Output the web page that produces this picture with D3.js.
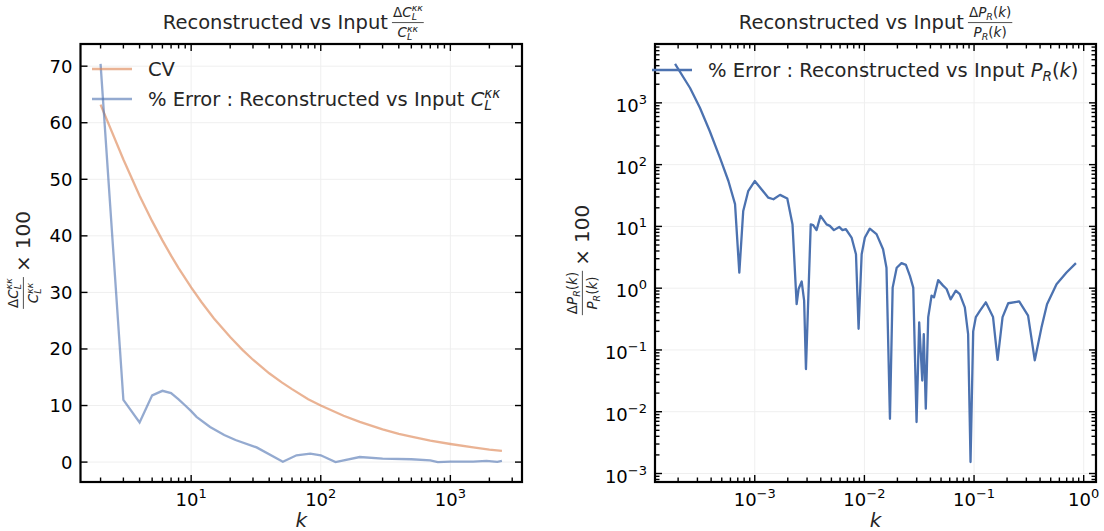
<!DOCTYPE html>
<html>
<head>
<meta charset="utf-8">
<script src="https://cdn.jsdelivr.net/npm/d3@7"></script>
<style>
  body { margin: 0; background: #fff; }
  svg text { font-family: "DejaVu Sans", sans-serif; }
</style>
</head>
<body>
<div id="chart"></div>
<script>
// left panel: CV and % error of reconstructed C_L^kk
var kCV = [2, 3, 4, 5, 6, 7, 8, 10, 12, 15, 20, 25, 30, 40, 50, 60, 80, 100, 150, 200, 300, 400, 500, 700, 1000, 1500, 2000, 2500];
var cvPct = [63.2, 53.5, 47.1, 42.6, 39.2, 36.5, 34.3, 30.9, 28.3, 25.4, 22.1, 19.8, 18.1, 15.7, 14.1, 12.9, 11.1, 10.0, 8.2, 7.1, 5.8, 5.0, 4.5, 3.8, 3.2, 2.6, 2.2, 2.0];

var kErrCl = [2, 3, 4, 5, 6, 7, 8, 9, 10, 11, 14, 18, 22, 32, 51, 65, 83, 100, 130, 200, 300, 500, 700, 800, 1000, 1500, 1900, 2300, 2500];
var errCl = [70.4, 11.0, 7.0, 11.8, 12.6, 12.2, 11.1, 10.0, 9.0, 8.0, 6.2, 4.8, 3.9, 2.6, 0.05, 1.2, 1.5, 1.2, 0.0, 0.9, 0.6, 0.5, 0.3, 0.0, 0.1, 0.1, 0.2, 0.05, 0.2];

// right panel: % error of reconstructed P_R(k)
var kPk = [1.875e-4, 2.57e-4, 3.16e-4, 3.89e-4, 4.82e-4, 5.75e-4, 6.61e-4, 7.23e-4, 7.85e-4, 8.71e-4,
  1.0e-3, 1.33e-3, 1.48e-3, 1.70e-3, 1.98e-3, 2.21e-3, 2.41e-3, 2.51e-3, 2.68e-3, 2.82e-3,
  2.93e-3, 3.24e-3, 3.41e-3, 3.66e-3, 3.98e-3, 4.52e-3, 4.84e-3, 5.27e-3, 5.89e-3, 6.31e-3,
  6.78e-3, 7.64e-3, 8.38e-3, 8.85e-3, 9.44e-3, 0.0101, 0.0112, 0.0129, 0.0148, 0.0159,
  0.0171, 0.0181, 0.0197, 0.0218, 0.0239, 0.0260, 0.0279, 0.0299, 0.0316, 0.0337,
  0.0348, 0.0363, 0.0382, 0.0410, 0.0431, 0.0471, 0.0522, 0.0562, 0.0611, 0.0682,
  0.0741, 0.0824, 0.0883, 0.0929, 0.0982, 0.1038, 0.113, 0.128, 0.149, 0.164,
  0.182, 0.205, 0.258, 0.311, 0.358, 0.412, 0.463, 0.565, 0.697, 0.85];
var errPk = [4270, 1740, 832, 347, 129, 54.3, 22.9, 1.79, 17.8, 37.2,
  54.3, 29.2, 27.5, 32.4, 28.2, 10.7, 0.55, 0.97, 1.28, 0.63,
  0.049, 10.8, 10.5, 8.7, 14.8, 10.8, 10.2, 8.7, 9.8, 8.7,
  9.0, 6.6, 3.55, 0.22, 3.55, 6.6, 9.2, 7.5, 4.27, 2.14,
  0.0077, 1.02, 2.14, 2.54, 2.39, 1.58, 1.02, 0.0068, 0.28, 0.032,
  0.18, 0.0112, 0.34, 0.76, 0.71, 1.35, 1.10, 0.97, 0.66, 0.91,
  0.80, 0.49, 0.18, 0.00153, 0.2, 0.34, 0.43, 0.59, 0.34, 0.069,
  0.34, 0.57, 0.61, 0.36, 0.068, 0.23, 0.55, 1.16, 1.79, 2.54];

var yTicksL = [0, 10, 20, 30, 40, 50, 60, 70];
var xMajorL = [10, 100, 1000];
var xMajorR = [1e-3, 1e-2, 1e-1, 1];
var yMajorR = [1e-3, 1e-2, 1e-1, 1, 10, 100, 1000];

var W = 1104, H = 531;
var TXT = "#262626";
var GRID = "#efefef";
var TICKFONT = 18;

var svg = d3.select("#chart").append("svg")
    .attr("width", W)
    .attr("height", H);

// matplotlib style 5% padding
function padLin(lo, hi) { var r = hi - lo; return [lo - 0.05 * r, hi + 0.05 * r]; }
function padLog(lo, hi) {
    var a = Math.log10(lo), b = Math.log10(hi), r = b - a;
    return [Math.pow(10, a - 0.05 * r), Math.pow(10, b + 0.05 * r)];
}
function minorLog(dom) {
    var out = [];
    for (var e = Math.floor(Math.log10(dom[0])); e <= Math.ceil(Math.log10(dom[1])); e++) {
        for (var m = 2; m <= 9; m++) {
            var v = m * Math.pow(10, e);
            if (v >= dom[0] && v <= dom[1]) out.push(v);
        }
    }
    return out;
}
function expOf(v) {
    var e = Math.round(Math.log10(v));
    return e < 0 ? "\u2212" + (-e) : String(e);
}

// lays out a run of pieces (italic / sub / sup) as tspans of one text, from x=0 on baseline 0
function mathRun(g, pieces, size, fill) {
    var cx = 0, prevStart = 0, prevEnd = 0;
    var text = g.append("text").attr("fill", fill || TXT).attr("font-size", size);
    pieces.forEach(function (p) {
        var fs = size * (p.sc || 1);
        if (p.gap) cx += p.gap * size;
        var start = p.stack ? prevStart : cx;
        var t = text.append("tspan")
            .attr("x", start)
            .attr("y", (p.sh || 0) * size)
            .attr("font-size", fs)
            .attr("font-style", p.it ? "italic" : "normal")
            .text(p.t);
        var w = t.node().getComputedTextLength();
        if (p.stack) {
            cx = Math.max(prevEnd, start + w);
        } else {
            prevStart = start;
            prevEnd = start + w;
            cx = start + w;
        }
    });
    return cx;
}

// fraction with its bar on y=0
function fraction(g, num, den, size) {
    var gn = g.append("g"), gd = g.append("g");
    var wn = mathRun(gn, num, size), wd = mathRun(gd, den, size);
    var w = Math.max(wn, wd) + 2;
    gn.attr("transform", "translate(" + (w - wn) / 2 + "," + (-size * 0.42) + ")");
    gd.attr("transform", "translate(" + (w - wd) / 2 + "," + (size * 1.1) + ")");
    g.append("line")
        .attr("x1", 0).attr("x2", w)
        .attr("y1", 0).attr("y2", 0)
        .attr("stroke", TXT)
        .attr("stroke-width", 0.8);
    return w;
}

// "label" + fraction + "after", centred on the group origin
function labelWithFrac(g, before, num, den, after, size, fracSize) {
    var inner = g.append("g");
    var x = 0;
    if (before) {
        x = mathRun(inner, [{ t: before }], size) + 4;
    }
    var gf = inner.append("g");
    var wf = fraction(gf, num, den, fracSize);
    gf.attr("transform", "translate(" + x + "," + (-size * 0.33) + ")");
    x += wf;
    if (after) {
        var ga = inner.append("g").attr("transform", "translate(" + (x + 5) + ",0)");
        x += 5 + mathRun(ga, after, size);
    }
    inner.attr("transform", "translate(" + (-x / 2) + ",0)");
}

var clNum = [{ t: "\u0394" }, { t: "C", it: 1 }, { t: "L", it: 1, sc: 0.7, sh: 0.22 }, { t: "\u03ba\u03ba", it: 1, sc: 0.7, sh: -0.42, stack: 1 }];
var clDen = [{ t: "C", it: 1 }, { t: "L", it: 1, sc: 0.7, sh: 0.22 }, { t: "\u03ba\u03ba", it: 1, sc: 0.7, sh: -0.42, stack: 1 }];
var pkNum = [{ t: "\u0394" }, { t: "P", it: 1 }, { t: "R", it: 1, sc: 0.7, sh: 0.22 }, { t: "(" }, { t: "k", it: 1 }, { t: ")" }];
var pkDen = [{ t: "P", it: 1 }, { t: "R", it: 1, sc: 0.7, sh: 0.22 }, { t: "(" }, { t: "k", it: 1 }, { t: ")" }];
var times100 = [{ t: "\u00d7" }, { t: "100", gap: 0.3 }];

/**
 * Draws one panel: grid, ticks, tick labels and x label
 */
function panel(box, x, y, opts) {
    var g = svg.append("g");
    var x0 = box.x0, x1 = box.x1, y0 = box.y0, y1 = box.y1;

    // grid
    opts.xMajor.forEach(function (v) {
        g.append("line").attr("x1", x(v)).attr("x2", x(v)).attr("y1", y0).attr("y2", y1)
            .attr("stroke", GRID).attr("stroke-width", 1);
    });
    opts.yMajor.forEach(function (v) {
        g.append("line").attr("x1", x0).attr("x2", x1).attr("y1", y(v)).attr("y2", y(v))
            .attr("stroke", GRID).attr("stroke-width", 1);
    });

    var ticks = svg.append("g").attr("stroke", "#000").attr("stroke-width", 1.4);
    function xt(list, len) {
        list.forEach(function (v) {
            var px = x(v);
            ticks.append("line").attr("x1", px).attr("x2", px).attr("y1", y1).attr("y2", y1 - len);
            ticks.append("line").attr("x1", px).attr("x2", px).attr("y1", y0).attr("y2", y0 + len);
        });
    }
    function yt(list, len) {
        list.forEach(function (v) {
            var py = y(v);
            ticks.append("line").attr("y1", py).attr("y2", py).attr("x1", x0).attr("x2", x0 + len);
            ticks.append("line").attr("y1", py).attr("y2", py).attr("x1", x1).attr("x2", x1 - len);
        });
    }
    xt(opts.xMajor, 7);
    xt(opts.xMinor, 4.5);
    yt(opts.yMajor, 7);
    if (opts.yMinor) yt(opts.yMinor, 4.5);

    // x tick labels (10^n)
    opts.xMajor.forEach(function (v) {
        var t = svg.append("text")
            .attr("x", x(v)).attr("y", y1 + 24)
            .attr("text-anchor", "middle")
            .attr("font-size", TICKFONT)
            .attr("fill", "#000");
        t.append("tspan").text("10");
        t.append("tspan").attr("dy", -8).attr("font-size", 13).text(expOf(v));
    });
    // y tick labels
    opts.yMajor.forEach(function (v) {
        var t = svg.append("text")
            .attr("x", x0 - 8).attr("y", y(v) + (opts.yLog ? 9 : 6.5))
            .attr("text-anchor", "end")
            .attr("font-size", TICKFONT)
            .attr("fill", "#000");
        if (opts.yLog) {
            t.append("tspan").text("10");
            t.append("tspan").attr("dy", -8).attr("font-size", 13).text(expOf(v));
        } else {
            t.text(v);
        }
    });

    // x label
    svg.append("text")
        .attr("x", (x0 + x1) / 2).attr("y", y1 + 45)
        .attr("text-anchor", "middle")
        .attr("font-size", 20)
        .attr("font-style", "italic")
        .attr("fill", TXT)
        .text("k");

    return g;
}

function frame(box) {
    svg.append("rect")
        .attr("x", box.x0).attr("y", box.y0)
        .attr("width", box.x1 - box.x0).attr("height", box.y1 - box.y0)
        .attr("fill", "none").attr("stroke", "#000").attr("stroke-width", 2.2);
}

// ---------- left panel ----------
var boxL = { x0: 80.5, x1: 522, y0: 44, y1: 482 };
var xL = d3.scaleLog()
    .domain(padLog(d3.min(kCV.concat(kErrCl)), d3.max(kCV.concat(kErrCl))))
    .range([boxL.x0, boxL.x1]);
var yL = d3.scaleLinear()
    .domain(padLin(d3.min(errCl.concat(cvPct)), d3.max(errCl.concat(cvPct))))
    .range([boxL.y1, boxL.y0]);

panel(boxL, xL, yL, { xMajor: xMajorL, xMinor: minorLog(xL.domain()), yMajor: yTicksL });

var lineL = d3.line().x(function (d) { return xL(d[0]); }).y(function (d) { return yL(d[1]); });
svg.append("path")
    .datum(d3.zip(kCV, cvPct))
    .attr("d", lineL)
    .attr("fill", "none").attr("stroke", "#DD8452").attr("stroke-opacity", 0.62).attr("stroke-width", 2.3);
svg.append("path")
    .datum(d3.zip(kErrCl, errCl))
    .attr("d", lineL)
    .attr("fill", "none").attr("stroke", "#4C72B0").attr("stroke-opacity", 0.6).attr("stroke-width", 2.3);

frame(boxL);

// ---------- right panel ----------
var boxR = { x0: 655, x1: 1096, y0: 44, y1: 482 };
var xR = d3.scaleLog()
    .domain(padLog(d3.min(kPk), d3.max(kPk)))
    .range([boxR.x0, boxR.x1]);
var yR = d3.scaleLog()
    .domain(padLog(d3.min(errPk), d3.max(errPk)))
    .range([boxR.y1, boxR.y0]);

panel(boxR, xR, yR, {
    xMajor: xMajorR, xMinor: minorLog(xR.domain()),
    yMajor: yMajorR, yMinor: minorLog(yR.domain()), yLog: true
});

var lineR = d3.line().x(function (d) { return xR(d[0]); }).y(function (d) { return yR(d[1]); });
svg.append("path")
    .datum(d3.zip(kPk, errPk))
    .attr("d", lineR)
    .attr("fill", "none").attr("stroke", "#4C72B0").attr("stroke-width", 2.3)
    .attr("stroke-linejoin", "round");

frame(boxR);

// ---------- titles ----------
var tL = svg.append("g").attr("transform", "translate(" + ((boxL.x0 + boxL.x1) / 2 - 8) + ",29)");
labelWithFrac(tL, "Reconstructed vs Input", clNum, clDen, null, 19.5, 13.5);
var tR = svg.append("g").attr("transform", "translate(" + (boxR.x0 + boxR.x1) / 2 + ",29)");
labelWithFrac(tR, "Reconstructed vs Input", pkNum, pkDen, null, 19.5, 13.5);

// ---------- y labels ----------
var ylL = svg.append("g").attr("transform", "translate(30," + ((boxL.y0 + boxL.y1) / 2 - 3) + ") rotate(-90)");
labelWithFrac(ylL, null, clNum, clDen, times100, 20, 13.5);
var ylR = svg.append("g").attr("transform", "translate(589," + ((boxR.y0 + boxR.y1) / 2 - 3) + ") rotate(-90)");
labelWithFrac(ylR, null, pkNum, pkDen, times100, 20, 13.5);

// ---------- legends ----------
function legendRow(x, y, color, opacity, pieces) {
    svg.append("line")
        .attr("x1", x).attr("x2", x + 40).attr("y1", y).attr("y2", y)
        .attr("stroke", color).attr("stroke-opacity", opacity).attr("stroke-width", 2.3);
    var g = svg.append("g").attr("transform", "translate(" + (x + 56) + "," + (y + 7) + ")");
    mathRun(g, pieces, 19.5);
}
legendRow(92, 69, "#DD8452", 0.62, [{ t: "CV" }]);
legendRow(92, 99, "#4C72B0", 0.6, [{ t: "% Error : Reconstructed vs Input" },
    { t: "C", it: 1, gap: 0.32 }, { t: "L", it: 1, sc: 0.7, sh: 0.22 }, { t: "\u03ba\u03ba", it: 1, sc: 0.7, sh: -0.42, stack: 1 }]);
legendRow(652, 70, "#4C72B0", 1, [{ t: "% Error : Reconstructed vs Input" },
    { t: "P", it: 1, gap: 0.32 }, { t: "R", it: 1, sc: 0.7, sh: 0.22 }, { t: "(" }, { t: "k", it: 1 }, { t: ")" }]);
</script>
</body>
</html>
